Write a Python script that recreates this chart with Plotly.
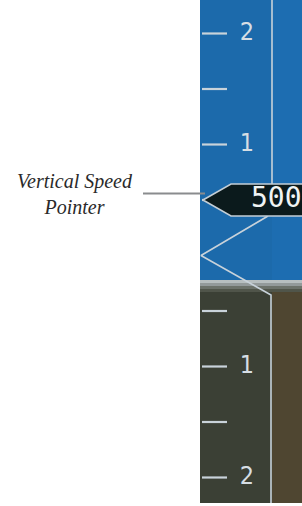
import plotly.graph_objects as go

# ---- data (thousands of feet per minute) ----
tick_values = [2.0, 1.5, 1.0, 0.5, -0.5, -1.0, -1.5, -2.0]
label_values = [2.0, 1.0, -1.0, -2.0]
label_texts = ["2", "1", "1", "2"]
pointer_value = 0.5
pointer_text = "500"
callout_lines = ["Vertical Speed", "Pointer"]

# ---- geometry (pixels horizontally, value units vertically) ----
W, H = 302, 506
PX_PER_K = 111.0
ZERO_PX = 255.5
def v(px):  # pixel row -> value
    return (ZERO_PX - px) / PX_PER_K

y_top, y_bot = v(0), v(H)
panel_x0, panel_x1, split_x = 200, 302, 272
horizon = v(280)
panel_bottom = v(503)

fig = go.Figure()
shapes = []
# sky / ground backgrounds
shapes.append(dict(type="rect", x0=panel_x0, x1=split_x, y0=horizon, y1=y_top + 1, fillcolor="#1c6aab", line_width=0, layer="below"))
shapes.append(dict(type="rect", x0=split_x, x1=panel_x1 + 5, y0=horizon, y1=y_top + 1, fillcolor="#1d6db1", line_width=0, layer="below"))
shapes.append(dict(type="rect", x0=panel_x0, x1=split_x, y0=panel_bottom, y1=horizon, fillcolor="#3b4035", line_width=0, layer="below"))
shapes.append(dict(type="rect", x0=split_x, x1=panel_x1 + 5, y0=panel_bottom, y1=horizon, fillcolor="#4f4631", line_width=0, layer="below"))
# horizon band
for (a, b, c) in [(280, 283, "#b7bfc0"), (283, 286, "#939a9a"), (286, 289, "#6c726a"), (289, 292, "#50554a")]:
    shapes.append(dict(type="rect", x0=panel_x0, x1=panel_x1 + 5, y0=v(b), y1=v(a), fillcolor=c, line_width=0, layer="below"))
fig.update_layout(shapes=shapes)

# tick marks
tx, ty = [], []
for t in tick_values:
    tx += [202, 227, None]
    ty += [t, t, None]
fig.add_trace(go.Scatter(x=tx, y=ty, mode="lines", line=dict(color="#c9d3da", width=2.2), hoverinfo="skip"))

# scale labels
fig.add_trace(go.Scatter(x=[247] * len(label_values), y=label_values, mode="text", text=label_texts,
                         textposition="middle center",
                         textfont=dict(family="DejaVu Sans Condensed, DejaVu Sans", size=25, color="#d6dee4"),
                         hoverinfo="skip"))

# pointer geometry
half = 16.0 / PX_PER_K
p_top, p_bot = pointer_value + half, pointer_value - half

# guide lines (vertical split line and V to zero)
line_style = dict(color="#c8d2da", width=1.6)
fig.add_trace(go.Scatter(x=[split_x, split_x], y=[y_top + 1, p_top], mode="lines", line=line_style, hoverinfo="skip"))
fig.add_trace(go.Scatter(x=[268, 201, 271, 271], y=[p_bot, 0, v(295), panel_bottom], mode="lines", line=line_style, hoverinfo="skip"))

# pointer body
fig.add_trace(go.Scatter(x=[203, 231, 310, 310, 231, 203], y=[pointer_value, p_top, p_top, p_bot, p_bot, pointer_value],
                         mode="lines", fill="toself", fillcolor="#0b1a1c",
                         line=dict(color="#c4ced6", width=1.6), hoverinfo="skip"))
fig.add_trace(go.Scatter(x=[251], y=[pointer_value], mode="text", text=[pointer_text], textposition="middle right",
                         textfont=dict(family="DejaVu Sans Mono", size=28, color="#f0f4f4"), hoverinfo="skip"))

# callout leader
fig.add_trace(go.Scatter(x=[143, 205], y=[v(193.5), v(193.5)], mode="lines", line=dict(color="#8a8c8e", width=2), hoverinfo="skip"))
fig.add_annotation(x=75, y=v(194), text="<br>".join(callout_lines), showarrow=False, xanchor="center", yanchor="middle",
                   font=dict(family="Liberation Serif", size=20, color="#2a2a2a", style="italic"), align="center")

fig.update_layout(
    width=W, height=H, autosize=False,
    margin=dict(l=0, r=0, t=0, b=0),
    paper_bgcolor="white", plot_bgcolor="white",
    showlegend=False,
    xaxis=dict(range=[0, W], visible=False, fixedrange=True),
    yaxis=dict(range=[y_bot, y_top], visible=False, fixedrange=True),
)
fig.write_html("out.html", config={"displayModeBar": False},
               post_script="document.body.style.margin='0';document.body.style.overflow='hidden';")
